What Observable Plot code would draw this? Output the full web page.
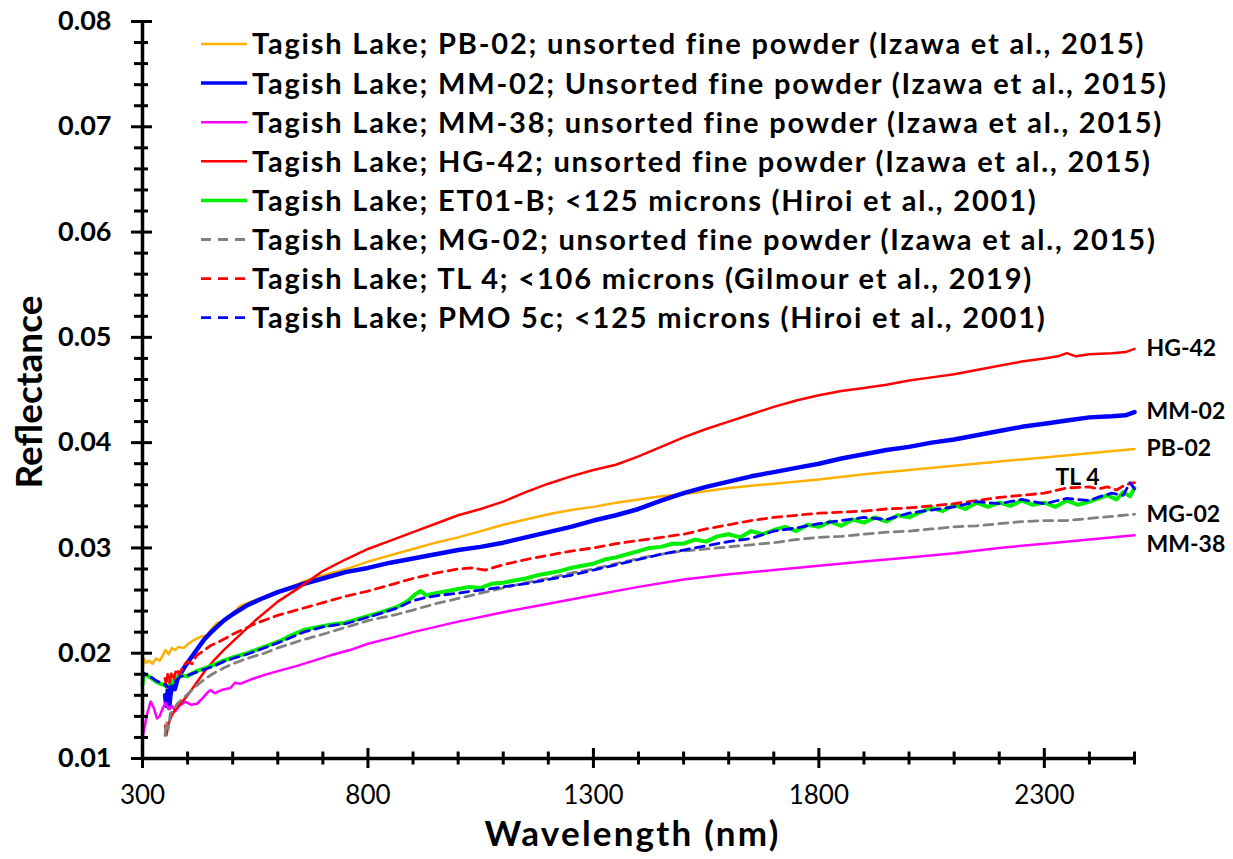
<!DOCTYPE html>
<html><head><meta charset="utf-8">
<script src="https://cdn.jsdelivr.net/npm/d3@7"></script>
<script src="https://cdn.jsdelivr.net/npm/@observablehq/plot@0.6"></script>
<style>body{margin:0;background:#fff;} #chart{position:relative;width:1233px;height:859px;}</style>
</head><body><div id="chart"></div>
<script>
// ---- Data (wavelength nm, reflectance) ----
const PB02 = [[300,0.0183],[303,0.0195],[308,0.0191],[315,0.0193],[322,0.0190],[330,0.0195],[338,0.0193],[345,0.0198],[351,0.0203],[358,0.0199],[365,0.0205],[372,0.0203],[380,0.0206],[392,0.0205],[402,0.0209],[412,0.0212],[421,0.0214],[432,0.0216],[443,0.0217],[455,0.0224],[466,0.0229],[477,0.0230],[488,0.0234],[500,0.0238],[517,0.0245],[540,0.0249],[568,0.0253],[600,0.0258],[628,0.0263],[670,0.0270],[717,0.0276],[760,0.0281],[800,0.0287],[850,0.0293],[900,0.0299],[950,0.0305],[1000,0.0310],[1050,0.0316],[1100,0.0322],[1150,0.0327],[1200,0.0332],[1250,0.0336],[1300,0.0339],[1350,0.0343],[1400,0.0346],[1450,0.0349],[1500,0.0351],[1600,0.0357],[1700,0.0361],[1800,0.0365],[1900,0.0370],[2000,0.0374],[2100,0.0378],[2200,0.0382],[2300,0.0386],[2400,0.0390],[2500,0.0394]];
const MM02 = [[350,0.0160],[353,0.0150],[356,0.0165],[359,0.0148],[362,0.0160],[366,0.0170],[372,0.0166],[378,0.0176],[385,0.0181],[395,0.0188],[405,0.0194],[420,0.0203],[435,0.0212],[450,0.0219],[480,0.0231],[500,0.0237],[530,0.0245],[560,0.0251],[600,0.0258],[650,0.0265],[700,0.0271],[750,0.0277],[800,0.0281],[850,0.0286],[900,0.0290],[950,0.0294],[1000,0.0298],[1050,0.0301],[1100,0.0305],[1150,0.0310],[1200,0.0315],[1250,0.0320],[1300,0.0326],[1350,0.0331],[1400,0.0337],[1450,0.0345],[1500,0.0352],[1550,0.0358],[1600,0.0363],[1650,0.0368],[1700,0.0372],[1750,0.0376],[1800,0.0380],[1850,0.0385],[1900,0.0389],[1950,0.0393],[2000,0.0396],[2050,0.0400],[2100,0.0403],[2150,0.0407],[2200,0.0411],[2250,0.0415],[2300,0.0418],[2350,0.0421],[2400,0.0424],[2450,0.0425],[2480,0.0426],[2500,0.0429]];
const MM38 = [[300,0.0120],[305,0.0130],[310,0.0142],[318,0.0154],[325,0.0148],[332,0.0138],[338,0.0140],[345,0.0148],[351,0.0153],[358,0.0147],[365,0.0150],[373,0.0145],[382,0.0150],[395,0.0154],[408,0.0151],[421,0.0152],[435,0.0158],[445,0.0163],[451,0.0165],[460,0.0162],[475,0.0165],[495,0.0167],[505,0.0172],[517,0.0171],[540,0.0175],[568,0.0179],[600,0.0183],[643,0.0188],[680,0.0193],[717,0.0198],[760,0.0203],[800,0.0209],[865,0.0216],[900,0.0220],[950,0.0225],[1000,0.0230],[1100,0.0239],[1200,0.0247],[1300,0.0255],[1400,0.0263],[1500,0.0270],[1600,0.0275],[1700,0.0279],[1800,0.0283],[1900,0.0287],[2000,0.0291],[2100,0.0295],[2200,0.0300],[2300,0.0304],[2400,0.0308],[2500,0.0312]];
const HG42 = [[350,0.0131],[353,0.0122],[358,0.0133],[365,0.0141],[375,0.0148],[390,0.0155],[400,0.0160],[420,0.0172],[440,0.0184],[460,0.0194],[480,0.0203],[500,0.0211],[550,0.0231],[600,0.0249],[650,0.0263],[700,0.0278],[750,0.0289],[800,0.0299],[850,0.0307],[900,0.0315],[950,0.0323],[1000,0.0331],[1050,0.0337],[1100,0.0344],[1150,0.0353],[1200,0.0361],[1250,0.0368],[1300,0.0374],[1350,0.0379],[1400,0.0387],[1450,0.0396],[1500,0.0405],[1550,0.0413],[1600,0.0420],[1650,0.0427],[1700,0.0434],[1750,0.0440],[1800,0.0445],[1850,0.0449],[1900,0.0452],[1950,0.0455],[2000,0.0459],[2050,0.0462],[2100,0.0465],[2150,0.0469],[2200,0.0473],[2250,0.0477],[2300,0.0480],[2330,0.0482],[2350,0.0485],[2370,0.0482],[2400,0.0484],[2450,0.0485],[2480,0.0486],[2500,0.0489]];
const ET01B = [[300,0.0170],[303,0.0180],[310,0.0179],[320,0.0176],[330,0.0173],[340,0.0171],[347,0.0170],[355,0.0168],[365,0.0172],[375,0.0176],[384,0.0179],[398,0.0178],[420,0.0183],[440,0.0186],[458,0.0189],[480,0.0193],[500,0.0196],[532,0.0200],[570,0.0206],[607,0.0212],[630,0.0217],[657,0.0222],[690,0.0225],[717,0.0227],[750,0.0229],[790,0.0234],[830,0.0239],[865,0.0244],[890,0.0250],[905,0.0256],[917,0.0259],[930,0.0255],[950,0.0257],[975,0.0259],[1000,0.0261],[1025,0.0263],[1050,0.0262],[1075,0.0266],[1100,0.0267],[1125,0.0269],[1150,0.0271],[1175,0.0274],[1200,0.0276],[1225,0.0278],[1250,0.0281],[1275,0.0283],[1300,0.0285],[1325,0.0289],[1350,0.0291],[1375,0.0294],[1400,0.0297],[1425,0.0300],[1450,0.0301],[1475,0.0304],[1500,0.0304],[1525,0.0308],[1550,0.0306],[1575,0.0311],[1600,0.0313],[1625,0.0310],[1650,0.0316],[1675,0.0313],[1700,0.0317],[1725,0.0320],[1750,0.0316],[1775,0.0322],[1800,0.0320],[1825,0.0325],[1850,0.0321],[1875,0.0327],[1900,0.0324],[1925,0.0329],[1950,0.0325],[1975,0.0331],[2000,0.0329],[2025,0.0334],[2050,0.0338],[2075,0.0335],[2100,0.0341],[2125,0.0337],[2150,0.0343],[2175,0.0339],[2200,0.0343],[2225,0.0340],[2250,0.0345],[2275,0.0341],[2300,0.0343],[2325,0.0339],[2350,0.0345],[2375,0.0341],[2400,0.0344],[2420,0.0347],[2440,0.0350],[2460,0.0346],[2475,0.0353],[2490,0.0349],[2500,0.0357]];
const MG02 = [[350,0.0122],[353,0.0135],[357,0.0128],[362,0.0143],[368,0.0145],[377,0.0152],[390,0.0157],[402,0.0162],[422,0.0170],[440,0.0176],[458,0.0181],[480,0.0186],[500,0.0190],[532,0.0195],[570,0.0200],[600,0.0205],[650,0.0212],[700,0.0218],[754,0.0225],[800,0.0231],[865,0.0237],[900,0.0241],[950,0.0247],[1000,0.0252],[1050,0.0257],[1100,0.0262],[1150,0.0267],[1200,0.0271],[1250,0.0276],[1300,0.0280],[1350,0.0285],[1400,0.0290],[1450,0.0294],[1500,0.0297],[1550,0.0299],[1600,0.0301],[1650,0.0303],[1700,0.0305],[1750,0.0308],[1800,0.0310],[1850,0.0311],[1900,0.0313],[1950,0.0315],[2000,0.0316],[2050,0.0318],[2100,0.0320],[2150,0.0321],[2200,0.0323],[2250,0.0325],[2300,0.0326],[2350,0.0326],[2400,0.0328],[2450,0.0330],[2500,0.0332]];
const TL4 = [[350,0.0176],[353,0.0168],[356,0.0180],[360,0.0172],[365,0.0182],[370,0.0176],[375,0.0185],[382,0.0180],[390,0.0188],[400,0.0192],[410,0.0190],[420,0.0198],[435,0.0202],[450,0.0207],[475,0.0212],[500,0.0218],[550,0.0228],[600,0.0236],[650,0.0242],[700,0.0248],[750,0.0254],[800,0.0259],[850,0.0265],[900,0.0271],[950,0.0276],[1000,0.0280],[1030,0.0281],[1060,0.0279],[1100,0.0284],[1150,0.0289],[1200,0.0293],[1250,0.0297],[1300,0.0300],[1350,0.0304],[1400,0.0307],[1450,0.0310],[1500,0.0313],[1550,0.0318],[1600,0.0322],[1650,0.0326],[1700,0.0329],[1750,0.0331],[1800,0.0333],[1850,0.0334],[1900,0.0335],[1950,0.0337],[2000,0.0338],[2050,0.0340],[2100,0.0342],[2150,0.0345],[2200,0.0348],[2250,0.0350],[2300,0.0352],[2350,0.0357],[2400,0.0358],[2420,0.0356],[2440,0.0358],[2460,0.0355],[2480,0.0360],[2500,0.0362]];
const PMO5C = [[300,0.0175],[303,0.0181],[310,0.0179],[320,0.0177],[330,0.0174],[340,0.0172],[350,0.0170],[360,0.0167],[370,0.0172],[384,0.0178],[400,0.0179],[420,0.0182],[440,0.0185],[460,0.0188],[480,0.0192],[500,0.0195],[532,0.0199],[570,0.0205],[607,0.0211],[657,0.0220],[700,0.0225],[750,0.0228],[790,0.0233],[830,0.0238],[865,0.0243],[900,0.0250],[930,0.0253],[960,0.0255],[1000,0.0257],[1050,0.0260],[1100,0.0263],[1150,0.0266],[1200,0.0270],[1250,0.0274],[1300,0.0279],[1350,0.0284],[1400,0.0289],[1450,0.0294],[1500,0.0298],[1550,0.0302],[1600,0.0306],[1650,0.0309],[1700,0.0316],[1750,0.0319],[1800,0.0323],[1850,0.0326],[1900,0.0329],[1950,0.0327],[2000,0.0333],[2050,0.0336],[2100,0.0339],[2150,0.0344],[2200,0.0342],[2250,0.0346],[2300,0.0342],[2350,0.0347],[2400,0.0345],[2425,0.0349],[2450,0.0352],[2475,0.0350],[2490,0.0362],[2500,0.0356]];

const legendLabels = [
  "Tagish Lake; PB-02; unsorted fine powder (Izawa et al., 2015)",
  "Tagish Lake; MM-02; Unsorted fine powder (Izawa et al., 2015)",
  "Tagish Lake; MM-38; unsorted fine powder (Izawa et al., 2015)",
  "Tagish Lake; HG-42; unsorted fine powder (Izawa et al., 2015)",
  "Tagish Lake; ET01-B; <125 microns (Hiroi et al., 2001)",
  "Tagish Lake; MG-02; unsorted fine powder (Izawa et al., 2015)",
  "Tagish Lake; TL 4; <106 microns (Gilmour et al., 2019)",
  "Tagish Lake; PMO 5c; <125 microns (Hiroi et al., 2001)"
];
const endLabels = ["PB-02","MM-02","MM-38","HG-42",null,"MG-02","TL 4",null];
const xMajor = [300,800,1300,1800,2300];
const xMinor = [400,500,600,700,900,1000,1100,1200,1400,1500,1600,1700,1900,2000,2100,2200,2400,2500];
const yMajor = [0.01,0.02,0.03,0.04,0.05,0.06,0.07,0.08];
const yMinor = [0.012,0.014,0.016,0.018,0.022,0.024,0.026,0.028,0.032,0.034,0.036,0.038,0.042,0.044,0.046,0.048,0.052,0.054,0.056,0.058,0.062,0.064,0.066,0.068,0.072,0.074,0.076,0.078];
const xTitle = "Wavelength (nm)";
const yTitle = "Reflectance";

// ---- Styles ----
const seriesData = [PB02, MM02, MM38, HG42, ET01B, MG02, TL4, PMO5C];
const colors = ["#FFB000","#0000FF","#FF00FF","#FF0000","#00EE00","#808080","#FF0000","#0000FF"];
const widths = [2.5,4.5,2.5,2.5,4,2.8,2.8,2.8];
const dashes = [null,null,null,null,null,"9,6","9,6","9,6"];
const FONT = "Lato, 'Open Sans', sans-serif";

const rows = seriesData.map((s, i) => s.map(([x, y]) => ({x, y, i})));
const lineMarks = rows.map((r, i) => Plot.line(r, {x: "x", y: "y", stroke: colors[i], strokeWidth: widths[i], strokeDasharray: dashes[i] || undefined, strokeLinejoin: "round"}));
const ends = rows.map((r, i) => endLabels[i] ? {...r[r.length - 1], label: endLabels[i]} : null);
const endMain = ends.filter(d => d && ["HG-42","MM-02","PB-02","MG-02"].includes(d.label));
const endMM38 = ends.filter(d => d && d.label === "MM-38");
const endTL4 = ends.filter(d => d && d.label === "TL 4");

const chart = Plot.plot({
  width: 1233, height: 859,
  marginLeft: 142, marginRight: 99, marginTop: 21, marginBottom: 101,
  style: {fontFamily: FONT, background: "white", color: "black", overflow: "visible"},
  x: {domain: [300, 2500]},
  y: {domain: [0.01, 0.08]},
  marks: [
    ...lineMarks,
    Plot.ruleX([300], {stroke: "black", strokeWidth: 3.5}),
    Plot.ruleY([0.01], {stroke: "black", strokeWidth: 3.5}),
    Plot.axisY({ticks: yMajor, tickSize: 21, dx: 10, fill: "none", strokeWidth: 3, label: null}),
    Plot.axisY({ticks: yMinor, tickSize: 14, dx: 6, fill: "none", strokeWidth: 3, label: null}),
    Plot.axisY({ticks: yMajor, tickSize: 0, tickPadding: 31, tickFormat: d3.format(".2f"), fontSize: 27, fontWeight: "bold", label: null}),
    Plot.axisX({ticks: xMajor, tickSize: 20, dy: -10, fill: "none", strokeWidth: 3, label: null}),
    Plot.axisX({ticks: xMinor, tickSize: 13, dy: -6.5, fill: "none", strokeWidth: 3, label: null}),
    Plot.axisX({ticks: xMajor, tickSize: 0, tickPadding: 27, tickFormat: d => String(d), fontSize: 26, label: null}),
    Plot.text([yTitle], {text: d => d, frameAnchor: "left", dx: -112, dy: 2, rotate: -90, textAnchor: "middle", lineAnchor: "middle", fontSize: 37, fontWeight: "bold"}),
    Plot.text([xTitle], {text: d => d, frameAnchor: "bottom", dy: 76, dx: -6, textAnchor: "middle", lineAnchor: "middle", fontSize: 35, fontWeight: "bold"}),
    Plot.text(endMain, {x: "x", y: "y", text: "label", textAnchor: "start", dx: 12, fontSize: 23, fontWeight: "bold"}),
    Plot.text(endMM38, {x: "x", y: "y", text: "label", textAnchor: "start", dx: 12, dy: 9, fontSize: 23, fontWeight: "bold"}),
    Plot.text(endTL4, {x: "x", y: "y", text: "label", textAnchor: "middle", dx: -57, dy: -5, fontSize: 23, fontWeight: "bold"})
  ]
});
document.getElementById("chart").appendChild(chart);

// widen the x title a little (Calibri-like proportions)
d3.select(chart).selectAll("text").filter(function(){ return this.textContent === xTitle; })
  .attr("letter-spacing", "2.2px");

// ---- In-plot legend ----
const svg = d3.select(chart);
const lg = svg.append("g").attr("font-family", FONT).attr("font-weight", "bold")
  .attr("font-size", 29).attr("fill", "black").attr("text-anchor", "start");
const texts = [];
legendLabels.forEach((t, i) => {
  const y = 44 + i * 39.1;
  lg.append("line").attr("x1", 201).attr("x2", 247).attr("y1", y).attr("y2", y)
    .attr("stroke", colors[i]).attr("stroke-width", Math.min(widths[i], 3.5))
    .attr("stroke-dasharray", dashes[i] ? "10,7" : null);
  texts.push(lg.append("text").attr("x", 252).attr("y", y).attr("dy", "0.36em").text(t));
});
// letter spacing so the first row spans the same width as in the reference
const firstLen = texts[0].node().getComputedTextLength();
const ls = Math.max(0, (891 - firstLen) / (legendLabels[0].length - 1));
texts.forEach(t => t.attr("letter-spacing", ls.toFixed(2) + "px"));
</script></body></html>
